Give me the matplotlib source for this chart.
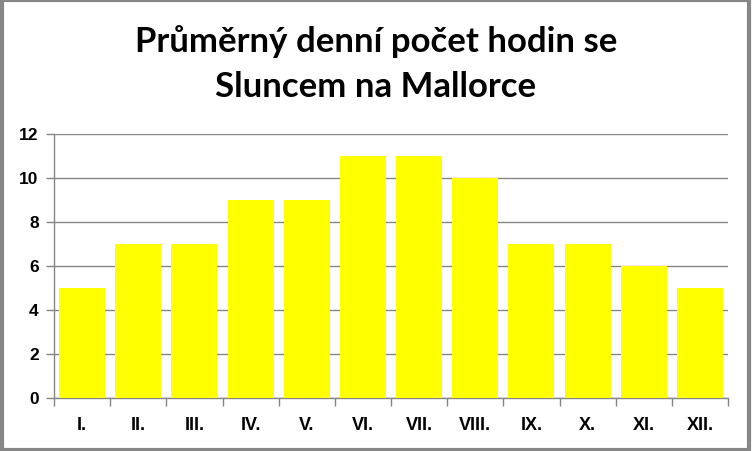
import matplotlib.pyplot as plt
import numpy as np

months = ["I.", "II.", "III.", "IV.", "V.", "VI.", "VII.", "VIII.", "IX.", "X.", "XI.", "XII."]
sun_hours = [5, 7, 7, 9, 9, 11, 11, 10, 7, 7, 6, 5]
y_ticks = [0, 2, 4, 6, 8, 10, 12]
title_lines = ["Průměrný denní počet hodin se", "Sluncem na Mallorce"]

grey = "#868686"

fig = plt.figure(figsize=(7.52, 4.52), dpi=100)
W, H = 752, 452
ax = fig.add_axes([54 / W, 1 - 398.5 / H, 674 / W, 264 / H])

x = np.arange(len(months))
ax.bar(x, sun_hours, width=0.82, color="#FFFF00", zorder=3)

ax.set_xlim(-0.5, len(months) - 0.5)
ax.set_ylim(0, 12)
ax.set_yticks(y_ticks)
ax.set_yticklabels([str(v) for v in y_ticks], fontsize=12.5, fontweight="bold",
                   family="Liberation Sans")
ax.yaxis.grid(True, color=grey, linewidth=1, zorder=0)

# category labels in the middle, tick marks on the boundaries
ax.set_xticks(x)
ax.set_xticklabels(months, fontsize=13, fontweight="bold", family="Liberation Sans")
ax.tick_params(axis="x", length=0, pad=13)
ax.set_xticks(np.arange(-0.5, len(months)), minor=True)
ax.tick_params(axis="x", which="minor", length=6, color=grey, width=1)
ax.tick_params(axis="y", length=6, color=grey, width=1, pad=5)

for side in ["top", "right"]:
    ax.spines[side].set_visible(False)
for side in ["left", "bottom"]:
    ax.spines[side].set_color(grey)
    ax.spines[side].set_linewidth(1)

for baseline, line in zip([52, 97], title_lines):
    fig.text(0.5, 1 - baseline / H, line, ha="center", va="baseline",
             fontsize=25, fontweight="bold", family="Lato")

# outer frame
fig.patches.append(plt.Rectangle((0.002, 0.003), 0.994, 0.994, transform=fig.transFigure,
                                 fill=False, edgecolor=grey, linewidth=3))

fig.savefig("out.png", dpi=100)
